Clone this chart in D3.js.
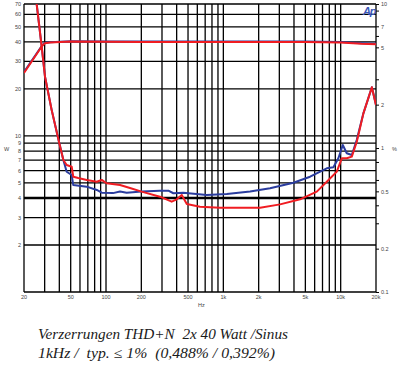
<!DOCTYPE html>
<html>
<head>
<meta charset="utf-8">
<script src="https://cdn.jsdelivr.net/npm/d3@7"></script>
<style>
  body { margin: 0; background: #fff; }
  svg { display: block; }
  .tick-lab { font-family: "Liberation Sans", sans-serif; font-size: 5.5px; fill: #444; }
  .cap { font-family: "Liberation Serif", "Times New Roman", serif; font-style: italic; font-size: 14px; fill: #1a1a1a; white-space: pre; }
</style>
</head>
<body>
<svg id="chart" width="402" height="368"></svg>
<script>
// grid values (W on the left, % on the right, Hz at the bottom)
const wGrid = [1, 2, 3, 4, 5, 6, 7, 8, 9, 10, 20, 30, 40, 50, 60, 70];
const wLabels = [2, 3, 4, 5, 6, 7, 8, 9, 10, 20, 30, 40, 50, 60, 70];
const pctTicks = [10, 9, 7, 6, 5, 3, 2, 1, 0.8, 0.6, 0.5, 0.4, 0.3, 0.2, 0.1];
const pctLabels = ["10", "", "7", "", "5", "", "2", "1", "", "", "0.5", "", "", "0.2", "0.1"];
const hzGrid = [20, 30, 40, 50, 60, 70, 80, 90, 100, 200, 300, 400, 500, 600, 700, 800, 900,
  1000, 2000, 3000, 4000, 5000, 6000, 7000, 8000, 9000, 10000, 20000];
const hzTicks = [20, 50, 100, 200, 500, 1000, 2000, 5000, 10000, 20000];
const hzLabels = ["20", "50", "100", "200", "500", "1k", "2k", "5k", "10k", "20k"];

// THD+N in %, red channel
const redThdF = [22, 25.6, 28.3, 30.2, 34.4, 40, 43.3, 46.2, 51, 52.6, 58, 68.5, 83.4, 91.9, 101, 131.6, 160, 201,
  288, 363, 401, 442, 488, 632, 937, 2057, 3044, 4508, 6256, 7614, 9267, 10220, 11270, 12440, 13720, 15620, 18440, 20000];
const redThd = [29, 10.1, 5.05, 3.13, 1.84, 1.08, 0.826, 0.762, 0.741, 0.632, 0.619, 0.600, 0.583, 0.600, 0.569, 0.553, 0.527, 0.498,
  0.459, 0.424, 0.440, 0.472, 0.408, 0.391, 0.385, 0.385, 0.406, 0.440, 0.498, 0.583, 0.685, 0.848, 0.848, 0.871, 1.106, 1.74, 2.64, 1.99];

// THD+N in %, blue channel
const blueThdF = [22, 25.6, 28.3, 30.2, 34.4, 40, 43.3, 46.2, 51, 52.6, 68.5, 83.4, 91.9, 114.8, 131.6, 150, 201, 288,
  340, 375, 456, 722, 1070, 1690, 2500, 3955, 5485, 7614, 8670, 9560, 10420, 11270, 12440, 13720, 15620, 18440, 20000];
const blueThd = [29, 10.1, 5.05, 3.13, 1.84, 1.08, 0.826, 0.684, 0.649, 0.553, 0.539, 0.511, 0.489, 0.486, 0.498, 0.489, 0.498, 0.505,
  0.505, 0.485, 0.489, 0.472, 0.480, 0.498, 0.525, 0.574, 0.632, 0.723, 0.734, 0.848, 1.05, 0.919, 0.894, 1.14, 1.74, 2.64, 1.99];

// output power in W
const powerF = [20, 28.3, 30.2, 33.3, 50, 100, 200, 500, 1000, 2000, 5000, 10000, 15000, 20000];
const redW = [25.3, 37.4, 39.3, 39.6, 40.3, 40.1, 40.0, 40.0, 40.0, 40.0, 40.0, 39.6, 38.9, 38.6];
const blueW = [25.7, 37.6, 39.5, 39.8, 40.4, 40.3, 40.2, 40.2, 40.2, 40.2, 40.2, 39.9, 39.3, 39.0];

const caption1 = "Verzerrungen THD+N  2x 40 Watt /Sinus";
const caption2 = "1kHz /  typ. \u2264 1%  (0,488% / 0,392%)";

const pLeft = 24, pRight = 376, pTop = 4, pBottom = 292;
const RED = "#f01c22", BLUE = "#2a3c9e";

const svg = d3.select("#chart");
const x = d3.scaleLog().domain([20, 20000]).range([pLeft, pRight]);
const yW = d3.scaleLog().domain([1, 70]).range([pBottom, pTop]);
const yP = d3.scaleLog().domain([0.1, 10]).range([pBottom, pTop]);

svg.append("defs").append("clipPath").attr("id", "clip")
  .append("rect").attr("x", pLeft).attr("y", pTop).attr("width", pRight - pLeft).attr("height", pBottom - pTop);

// grid
const grid = svg.append("g").attr("stroke", "#000");
grid.selectAll("line.v").data(hzGrid).join("line")
  .attr("x1", d => x(d)).attr("x2", d => x(d))
  .attr("y1", pTop).attr("y2", pBottom)
  .attr("stroke-width", 1.3);
grid.selectAll("line.h").data(wGrid).join("line")
  .attr("x1", pLeft).attr("x2", pRight)
  .attr("y1", d => yW(d)).attr("y2", d => yW(d))
  .attr("stroke-width", d => d === 4 ? 2.6 : 1.3);

// left labels
svg.append("g").selectAll("text").data(wLabels).join("text")
  .attr("class", "tick-lab")
  .attr("x", pLeft - 3).attr("y", d => yW(d) + 2)
  .attr("text-anchor", "end").text(d => d);
svg.append("text").attr("class", "tick-lab").attr("x", 4).attr("y", 151).text("W");

// right axis
const ra = svg.append("g").attr("transform", `translate(${pRight},0)`);
ra.call(d3.axisRight(yP).tickValues(pctTicks).tickSize(3).tickFormat((d, i) => pctLabels[i]));
ra.select(".domain").remove();
ra.selectAll("line").attr("stroke", "#000");
ra.selectAll("text").attr("class", "tick-lab").attr("x", 5);
ra.attr("font-size", null).attr("font-family", null);
svg.append("text").attr("class", "tick-lab").attr("x", 392).attr("y", 151).text("%");

// bottom labels
svg.append("g").selectAll("text").data(hzTicks).join("text")
  .attr("class", "tick-lab")
  .attr("x", d => x(d)).attr("y", pBottom + 7)
  .attr("text-anchor", "middle").text((d, i) => hzLabels[i]);
svg.append("text").attr("class", "tick-lab").attr("x", 198).attr("y", 307).text("Hz");

// curves
const plot = svg.append("g").attr("clip-path", "url(#clip)").attr("fill", "none")
  .attr("stroke-width", 2).attr("stroke-linejoin", "round");
const lineW = d3.line().x(d => x(d[0])).y(d => yW(d[1]));
const lineP = d3.line().x(d => x(d[0])).y(d => yP(d[1]));

plot.append("path").attr("stroke", BLUE).attr("d", lineW(d3.zip(powerF, blueW)));
plot.append("path").attr("stroke", BLUE).attr("d", lineP(d3.zip(blueThdF, blueThd)));
plot.append("path").attr("stroke", RED).attr("d", lineW(d3.zip(powerF, redW)));
plot.append("path").attr("stroke", RED).attr("d", lineP(d3.zip(redThdF, redThd)));

// logo
svg.append("text").attr("x", 363).attr("y", 15)
  .attr("font-family", "Liberation Sans, sans-serif").attr("font-size", 11)
  .attr("font-weight", "bold").attr("font-style", "italic")
  .attr("fill", "#3a56b8").attr("letter-spacing", -1.2).text("Ap");

// caption
svg.append("text").attr("class", "cap").attr("x", 38).attr("y", 339)
  .attr("textLength", 250).attr("lengthAdjust", "spacingAndGlyphs").text(caption1);
svg.append("text").attr("class", "cap").attr("x", 38).attr("y", 358)
  .attr("textLength", 237).attr("lengthAdjust", "spacingAndGlyphs").text(caption2);
</script>
</body>
</html>
